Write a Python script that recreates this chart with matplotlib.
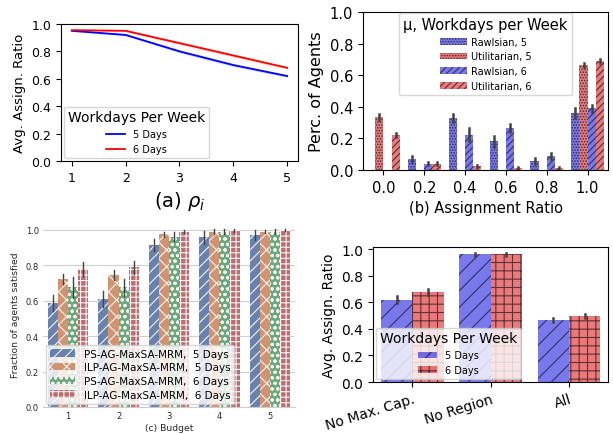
import matplotlib

matplotlib.use("Agg")
import matplotlib.pyplot as plt
import numpy as np
from matplotlib.patches import Patch

plt.rcParams["hatch.linewidth"] = 0.8

# (a) avg assignment ratio vs rho_i
rho = [1, 2, 3, 4, 5]
a_5days = [0.95, 0.92, 0.80, 0.70, 0.62]
a_6days = [0.955, 0.95, 0.86, 0.77, 0.68]
a_band = [0.005, 0.008, 0.012, 0.012, 0.010]

# (b) distribution of assignment ratios
b_bins = ["0.0", "0.2", "0.4", "0.6", "0.8", "1.0"]
b_labels = ["Rawlsian, 5", "Utilitarian, 5", "Rawlsian, 6", "Utilitarian, 6"]
b_vals = [
    [0.0, 0.07, 0.331, 0.182, 0.057, 0.36],
    [0.335, 0.0, 0.0, 0.0, 0.0, 0.665],
    [0.0, 0.04, 0.223, 0.264, 0.089, 0.39],
    [0.221, 0.04, 0.027, 0.013, 0.013, 0.69],
]
b_err = [
    [0.0, 0.02, 0.025, 0.035, 0.02, 0.03],
    [0.02, 0.0, 0.0, 0.0, 0.0, 0.015],
    [0.0, 0.01, 0.04, 0.025, 0.02, 0.02],
    [0.015, 0.01, 0.005, 0.004, 0.004, 0.015],
]

# (c) fraction of agents satisfied vs budget
budget = ["1", "2", "3", "4", "5"]
c_labels = ["PS-AG-MaxSA-MRM,  5 Days", "ILP-AG-MaxSA-MRM,  5 Days",
            "PS-AG-MaxSA-MRM,  6 Days", "ILP-AG-MaxSA-MRM,  6 Days"]
c_vals = [
    [0.587, 0.61, 0.913, 0.957, 0.97],
    [0.722, 0.745, 0.975, 0.99, 0.99],
    [0.675, 0.675, 0.962, 0.99, 0.99],
    [0.778, 0.788, 0.99, 0.997, 1.0],
]
c_err = [
    [0.045, 0.045, 0.035, 0.035, 0.03],
    [0.03, 0.03, 0.015, 0.015, 0.01],
    [0.06, 0.05, 0.025, 0.015, 0.015],
    [0.04, 0.035, 0.01, 0.008, 0.005],
]

# (d) ablations
d_cats = ["No Max. Cap.", "No Region", "All"]
d_5days = [0.62, 0.96, 0.47]
d_6days = [0.675, 0.96, 0.50]
d_err5 = [0.025, 0.01, 0.015]
d_err6 = [0.022, 0.01, 0.015]

BLUE = (0.125, 0.125, 0.875, 0.6)
RED = (0.875, 0.125, 0.125, 0.6)
ERRC = "#424242"
yt = np.arange(0, 1.01, 0.2)

fig = plt.figure(figsize=(6.13, 4.35), dpi=100)

# ---- (a)
ax = fig.add_axes([0.0995, 0.6276, 0.3866, 0.315])
for vals, col, lab in [(a_5days, "blue", "5 Days"), (a_6days, "red", "6 Days")]:
    v = np.array(vals)
    ax.fill_between(rho, v - a_band, v + a_band, color=col, alpha=0.15, lw=0)
    ax.plot(rho, v, color=col, lw=1.3, label=lab)
ax.set_ylim(0, 1)
ax.set_yticks(yt)
ax.set_xticks(rho)
ax.tick_params(labelsize=9)
ax.set_ylabel("Avg. Assign. Ratio", fontsize=9.5)
ax.set_xlabel(r"(a) $\rho_i$", fontsize=14)
ax.legend(loc="lower left", title="Workdays Per Week", fontsize=7,
          title_fontsize=10, borderaxespad=0.3)

# ---- (b)
ax = fig.add_axes([0.5922, 0.6069, 0.3997, 0.3632])
hatches_b = ["......", "......", "/////", "/////"]
cols_b = [BLUE, RED, BLUE, RED]
x = np.arange(len(b_bins))
w = 0.2
for i in range(4):
    pos = x - 0.3 + i * w
    ax.bar(pos, b_vals[i], width=w, facecolor=cols_b[i],
           edgecolor=(0.1, 0.1, 0.15, 0.75), lw=0, hatch=hatches_b[i], label=b_labels[i])
    for p, v, e in zip(pos, b_vals[i], b_err[i]):
        if e > 0:
            ax.plot([p, p], [v - e, v + e], color=ERRC, lw=1.8)
ax.set_xlim(-0.5, len(b_bins) - 0.5)
ax.set_ylim(0, 1)
ax.set_yticks(yt)
ax.set_xticks(x)
ax.set_xticklabels(b_bins)
ax.tick_params(labelsize=10.5)
ax.set_ylabel("Perc. of Agents", fontsize=11.5)
ax.set_xlabel("(b) Assignment Ratio", fontsize=10.5)
ax.legend(loc="upper center", bbox_to_anchor=(0.5, 0.995), title="μ, Workdays per Week",
          fontsize=7, title_fontsize=10.5, borderaxespad=0, handlelength=2.8,
          handletextpad=0.4)

# ---- (c)
ax = fig.add_axes([0.0701, 0.0621, 0.4111, 0.4276])
deep = ["#5975a4", "#cc8963", "#5f9e6e", "#b55d60"]
hatches_c = ["///", "xx", "ooo", "+++"]
x = np.arange(len(budget))
for i in range(4):
    pos = x - 0.3 + i * w
    ax.bar(pos, c_vals[i], width=w, color=deep[i], alpha=0.9, edgecolor="white",
           lw=0, hatch=hatches_c[i], label=c_labels[i], zorder=2)
    for p, v, e in zip(pos, c_vals[i], c_err[i]):
        ax.plot([p, p], [v - e, v + e], color=ERRC, lw=1.0, zorder=3)
ax.set_xlim(-0.5, len(budget) - 0.5)
ax.set_ylim(0, 1.05)
ax.set_xticks(x)
ax.set_xticklabels(budget)
ax.set_yticks(yt)
ax.grid(axis="y", color="#d0d0d0", lw=0.8, zorder=0)
ax.set_axisbelow(True)
for s in ["left", "top", "right"]:
    ax.spines[s].set_visible(False)
ax.spines["bottom"].set_color("#cccccc")
ax.tick_params(length=0, labelsize=6, colors="#262626", pad=3)
ax.set_ylabel("Fraction of agents satisfied", fontsize=6.7, color="#262626")
ax.set_xlabel("(c) Budget", fontsize=6.7, color="#262626", labelpad=2)
ax.legend(loc="lower left", fontsize=7.5, handlelength=2.4, borderaxespad=0.3,
          labelspacing=0.35, framealpha=0.8, edgecolor="#cccccc")

# ---- (d)
ax = fig.add_axes([0.6085, 0.1195, 0.3834, 0.3103])
x = np.arange(len(d_cats))
w = 0.4
hedge = (0.0, 0.0, 0.05, 0.6)
ax.bar(x - 0.2, d_5days, width=w, facecolor=BLUE, edgecolor=hedge, lw=0, hatch="//")
ax.bar(x + 0.2, d_6days, width=w, facecolor=RED, edgecolor=hedge, lw=0, hatch="++")
for p, v, e in zip(x - 0.2, d_5days, d_err5):
    ax.plot([p, p], [v - e, v + e], color=ERRC, lw=1.8)
for p, v, e in zip(x + 0.2, d_6days, d_err6):
    ax.plot([p, p], [v - e, v + e], color=ERRC, lw=1.8)
ax.set_xlim(-0.5, len(d_cats) - 0.5)
ax.set_ylim(0, 1.015)
ax.set_yticks(yt)
ax.set_xticks(x)
ax.set_xticklabels(d_cats, rotation=17, ha="right", rotation_mode="anchor")
ax.tick_params(labelsize=10)
ax.set_ylabel("Avg. Assign. Ratio", fontsize=10)
handles = [Patch(facecolor=BLUE, edgecolor=hedge, lw=0, hatch="//", label="5 Days"),
           Patch(facecolor=RED, edgecolor=hedge, lw=0, hatch="++", label="6 Days")]
ax.legend(handles=handles, loc="lower left", title="Workdays Per Week", fontsize=7,
          title_fontsize=10, borderaxespad=0.3)

fig.savefig("out.png", dpi=100)
